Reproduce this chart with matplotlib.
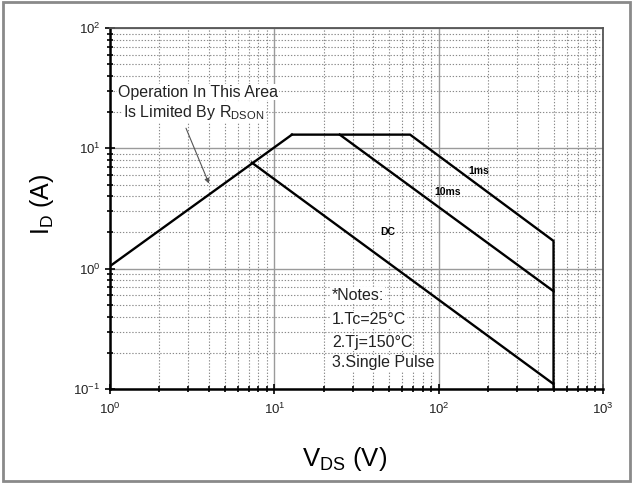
import matplotlib
matplotlib.use("Agg")
import matplotlib.pyplot as plt
from matplotlib.patches import Rectangle
from matplotlib.ticker import LogLocator, NullFormatter

plt.rcParams["font.family"] = ["Liberation Sans", "DejaVu Sans"]
plt.rcParams["mathtext.fontset"] = "custom"
plt.rcParams["mathtext.rm"] = "Liberation Sans"
plt.rcParams["mathtext.it"] = "Liberation Sans"

# Safe operating area boundaries (V, A)
vds_rdson = [1.0, 12.8]
id_rdson = [1.05, 13.0]

vds_1ms = [12.8, 67.0, 500.0, 500.0]
id_1ms = [13.0, 13.0, 1.7, 0.1]

vds_10ms = [25.0, 500.0]
id_10ms = [13.0, 0.65]

vds_dc = [7.3, 500.0]
id_dc = [7.6, 0.11]

notes = ["*Notes:", "1.Tc=25°C", "2.Tj=150°C", "3.Single Pulse"]
note_y = [0.60, 0.38, 0.243, 0.165]

fig = plt.figure(figsize=(6.33, 4.83), dpi=100)
ax = fig.add_axes([0.1738, 0.1946, 0.7788, 0.7474])

# Outer frame around the whole figure
fig.patches.append(Rectangle((0.005, 0.004), 0.99, 0.992, transform=fig.transFigure,
                             fill=False, edgecolor="#8a8a8a", lw=2.0))

ax.set_xscale("log")
ax.set_yscale("log")
ax.set_xlim(1, 1000)
ax.set_ylim(0.1, 100)

ax.grid(which="major", color="#9a9a9a", ls="-", lw=1.0)
ax.grid(which="minor", color="#8a8a8a", ls=(0, (1.2, 1.6)), lw=0.8)
ax.xaxis.set_minor_locator(LogLocator(base=10, subs=range(2, 10)))
ax.yaxis.set_minor_locator(LogLocator(base=10, subs=range(2, 10)))
ax.xaxis.set_minor_formatter(NullFormatter())
ax.yaxis.set_minor_formatter(NullFormatter())

for side in ["left", "bottom"]:
    ax.spines[side].set_color("black")
    ax.spines[side].set_linewidth(1.8)
for side in ["top", "right"]:
    ax.spines[side].set_color("#555555")
    ax.spines[side].set_linewidth(1.3)

ax.tick_params(which="major", direction="inout", length=7, width=1.2, labelsize=9.5,
               colors="black", labelcolor="#222222")
ax.tick_params(which="minor", direction="inout", length=4, width=1.2)
ax.tick_params(axis="x", pad=6)

# Curves
lc = dict(color="black", lw=1.7, solid_joinstyle="miter")
ax.plot(vds_rdson, id_rdson, **lc)
ax.plot(vds_1ms, id_1ms, **lc)
ax.plot(vds_10ms, id_10ms, **lc)
ax.plot(vds_dc, id_dc, **lc)

ax.text(151, 6.5, "1ms", fontsize=7.5, fontweight="bold", ha="left", va="center")
ax.text(94, 4.3, "10ms", fontsize=7.5, fontweight="bold", ha="left", va="center")
ax.text(44, 2.0, "DC", fontsize=7.5, fontweight="bold", ha="left", va="center")

wb = dict(facecolor="white", edgecolor="none", pad=0.6)
ax.text(1.12, 29.3, "Operation In This Area", fontsize=11.5, va="center", ha="left",
        color="#222222", bbox=wb)
ax.text(1.2, 20.0, "Is Limited By R$_{\\mathregular{DSON}}$", fontsize=11.5, va="center",
        ha="left", color="#222222", bbox=wb)
ax.annotate("", xy=(4.0, 5.1), xytext=(2.9, 14.7),
            arrowprops=dict(arrowstyle="-|>", color="#555555", lw=0.8,
                            mutation_scale=7, shrinkA=0, shrinkB=0))

for txt, yv in zip(notes, note_y):
    ax.text(22.4, yv, txt, fontsize=11.5, va="center", ha="left", color="#222222", bbox=wb)

ax.set_xlabel("V$_{\\mathregular{DS}}$ (V)", fontsize=18.5)
ax.set_ylabel("I$_{\\mathregular{D}}$ (A)", fontsize=18)
ax.xaxis.set_label_coords(0.475, -0.155)
ax.yaxis.set_label_coords(-0.11, 0.512)

fig.savefig("out.png", dpi=100)
